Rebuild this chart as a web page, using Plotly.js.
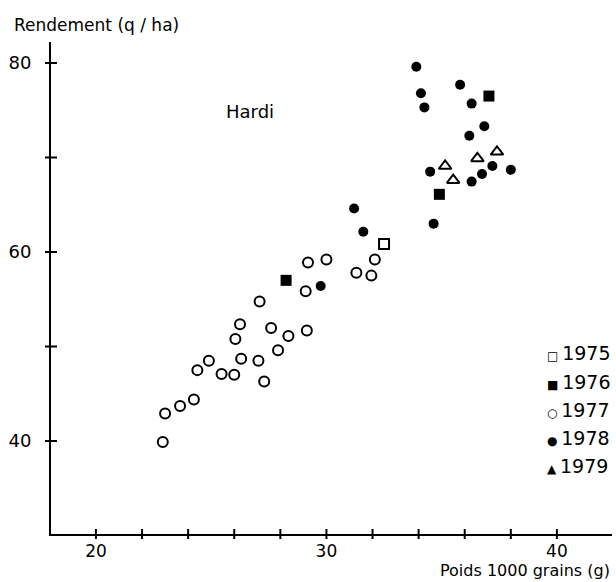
<!DOCTYPE html>
<html>
<head>
<meta charset="utf-8">
<script src="https://cdn.plot.ly/plotly-3.0.1.min.js"></script>
<style>html,body{margin:0;padding:0;background:#fff;}#chart{width:616px;height:582px;}</style>
</head>
<body>
<div id="chart"></div>
<script>
// Poids 1000 grains (g) vs Rendement (q/ha), variety Hardi
var x1975 = [32.5];
var y1975 = [60.85];

var x1976 = [28.25, 37.05, 34.9];
var y1976 = [57.0, 76.5, 66.1];

var x1977 = [22.9, 23.0, 23.65, 24.25, 24.4, 24.9, 25.45, 26.0, 26.3, 26.05, 26.25, 27.05,
             27.3, 27.1, 27.6, 27.9, 28.35, 29.15, 29.1, 29.2, 30.0, 31.3, 31.95, 32.1];
var y1977 = [39.9, 42.9, 43.7, 44.4, 47.5, 48.5, 47.1, 47.0, 48.7, 50.8, 52.35, 48.5,
             46.3, 54.75, 51.95, 49.6, 51.1, 51.7, 55.85, 58.9, 59.2, 57.8, 57.5, 59.2];

var x1978 = [29.75, 31.2, 31.6, 33.9, 35.8, 34.1, 36.3, 34.25, 36.85, 36.2, 37.2, 38.0,
             34.5, 36.75, 36.3, 34.65];
var y1978 = [56.4, 64.6, 62.15, 79.6, 77.7, 76.8, 75.7, 75.3, 73.3, 72.3, 69.1, 68.7,
             68.5, 68.25, 67.45, 63.0];

var x1979 = [37.4, 36.55, 35.15, 35.5];
var y1979 = [70.6, 69.9, 69.1, 67.6];

var years = ['1975', '1976', '1977', '1978', '1979'];
var keyGlyphs = ['\u25A1', '\u25A0', '\u25CB', '\u25CF', '\u25B2'];

var xTickVals = [20, 22, 24, 26, 28, 30, 32, 34, 36, 38, 40];
var xTickText = ['20', '', '', '', '', '30', '', '', '', '', '40'];
var yTickVals = [40, 50, 60, 70, 80];
var yTickText = ['40', '', '60', '', '80'];

var xRange = [18.05, 42.39];
var yRange = [30.16, 82.22];

var FONT = 'DejaVu Sans, Verdana, sans-serif';

function tr(x, y, name, symbol, size, lw) {
  return {
    x: x, y: y, type: 'scatter', mode: 'markers', name: name,
    showlegend: false,
    marker: {symbol: symbol, size: size, color: '#000',
             line: {color: '#000', width: lw}},
    hoverinfo: 'x+y'
  };
}

var data = [
  tr(x1975, y1975, years[0], 'square-open', 10, 2),
  tr(x1976, y1976, years[1], 'square', 11, 0),
  tr(x1977, y1977, years[2], 'circle-open', 10, 2),
  tr(x1978, y1978, years[3], 'circle', 10, 0),
  tr(x1979, y1979, years[4], 'triangle-up-open', 11, 2)
];

// crossing tick marks, built from the tick value arrays
var shapes = [];
xTickVals.forEach(function (v) {
  shapes.push({type: 'line', xref: 'x', yref: 'paper', ysizemode: 'pixel', yanchor: 0,
               x0: v, x1: v, y0: -5, y1: 5, line: {color: '#000', width: 2}, layer: 'above'});
});
yTickVals.forEach(function (v) {
  shapes.push({type: 'line', yref: 'y', xref: 'paper', xsizemode: 'pixel', xanchor: 0,
               y0: v, y1: v, x0: -6, x1: 6, line: {color: '#000', width: 2}, layer: 'above'});
});

var annotations = [
  {text: 'Rendement (q / ha)', xref: 'paper', yref: 'paper',
   x: -0.0695, y: 1.035, xanchor: 'left', yanchor: 'middle', showarrow: false,
   font: {family: FONT, size: 17, color: '#000'}},
  {text: 'Poids 1000 grains (g)', xref: 'paper', yref: 'paper',
   x: 1.0, y: -0.0976, xanchor: 'right', yanchor: 'bottom', showarrow: false,
   font: {family: FONT, size: 16, color: '#000'}},
  {text: 'Hardi', xref: 'x', yref: 'y', x: 26.7, y: 74.9,
   xanchor: 'center', yanchor: 'middle', showarrow: false,
   font: {family: FONT, size: 18, color: '#000'}}
];

var keyY = [0.3679, 0.3089, 0.252, 0.1951, 0.1382];
for (var i = 0; i < years.length; i++) {
  annotations.push({
    text: '<span style="font-size:12px">' + keyGlyphs[i] + '</span>\u2009' + years[i],
    xref: 'paper', yref: 'paper', x: 0.8807, y: keyY[i],
    xanchor: 'left', yanchor: 'middle', showarrow: false,
    font: {family: FONT, size: 19, color: '#000'}
  });
}

var layout = {
  width: 616, height: 582,
  margin: {l: 51, r: 4, t: 42, b: 48},
  paper_bgcolor: '#fff', plot_bgcolor: '#fff',
  font: {family: FONT, color: '#000', size: 17},
  showlegend: false,
  xaxis: {
    range: xRange, showgrid: false, zeroline: false,
    showline: true, linecolor: '#000', linewidth: 2,
    tickmode: 'array', tickvals: xTickVals, ticktext: xTickText,
    ticks: '', ticklabelstandoff: 1,
    tickfont: {family: FONT, size: 17, color: '#000'}
  },
  yaxis: {
    range: yRange, showgrid: false, zeroline: false,
    showline: true, linecolor: '#000', linewidth: 2,
    tickmode: 'array', tickvals: yTickVals, ticktext: yTickText,
    ticks: '', ticklabelstandoff: 14,
    tickfont: {family: FONT, size: 18, color: '#000'}
  },
  shapes: shapes,
  annotations: annotations
};

Plotly.newPlot('chart', data, layout, {staticPlot: true});
</script>
</body>
</html>
